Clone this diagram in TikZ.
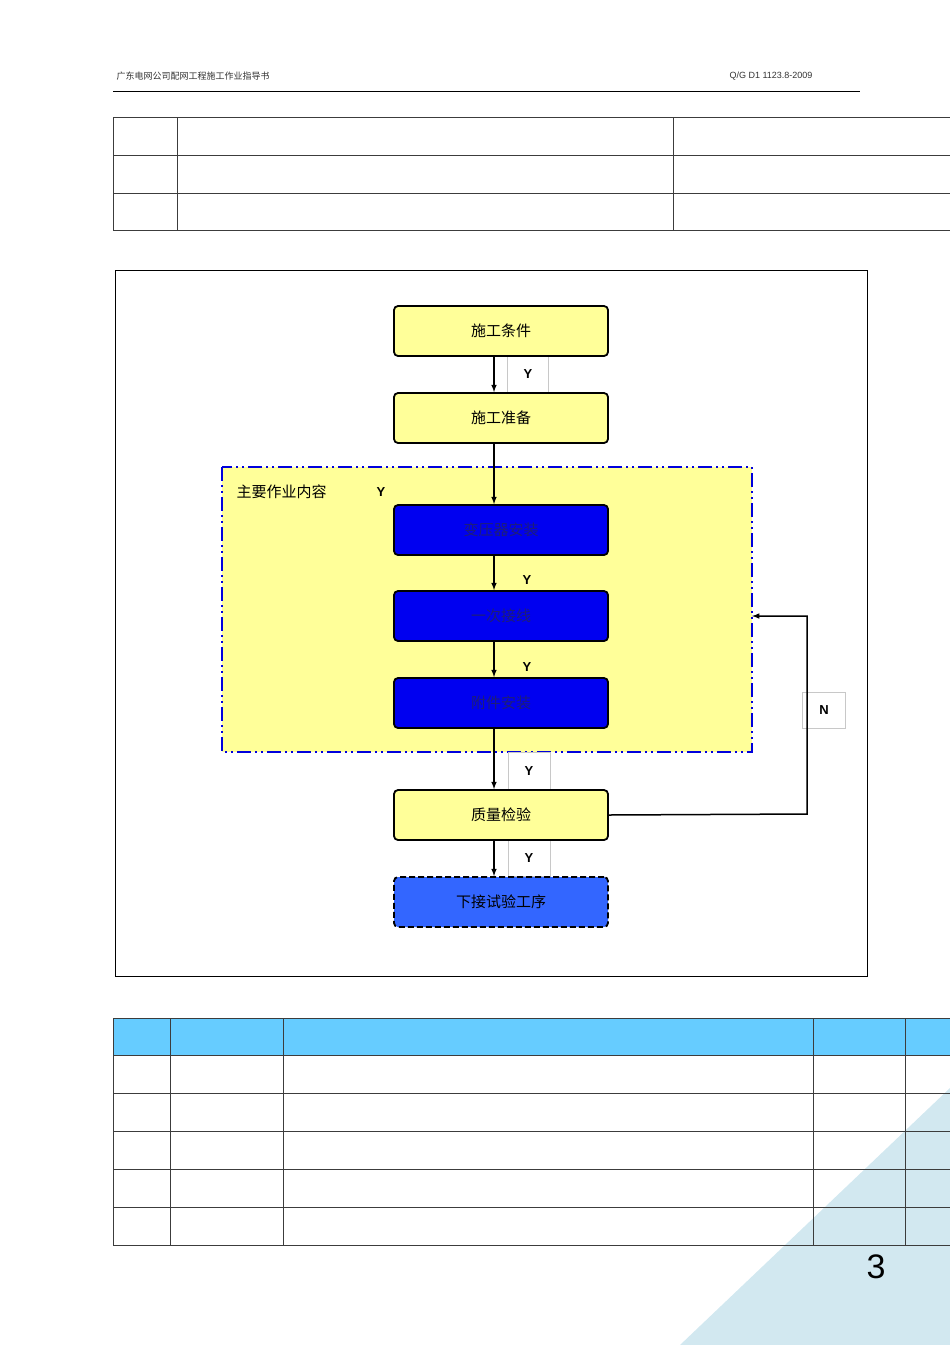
\documentclass[tikz,border=0pt]{standalone}
\usepackage{fontspec}
\setmainfont{Liberation Sans}
\newfontfamily\cjk{Noto Sans CJK SC}
\definecolor{tri}{RGB}{210,232,240}
\definecolor{ylw}{RGB}{255,255,153}
\definecolor{blu}{RGB}{0,0,240}
\definecolor{blutxt}{RGB}{30,30,120}
\definecolor{regb}{RGB}{0,0,220}
\definecolor{lgray}{RGB}{200,200,200}
\definecolor{dgray}{RGB}{60,60,60}
\definecolor{htxt}{RGB}{50,50,50}
\definecolor{lastb}{RGB}{51,102,255}
\definecolor{hdr}{RGB}{102,204,255}
\begin{document}
\begin{tikzpicture}[x=1pt,y=-1pt,
  box/.style={draw=black,line width=1.8pt,rounded corners=4pt,minimum width=214pt,minimum height=50pt,inner sep=0pt,font=\cjk\fontsize{15}{15}\selectfont},
  ybox/.style={box,fill=ylw},
  bbox/.style={box,fill=blu,text=blutxt},
  arr/.style={-latex,line width=1.5pt},
  lab/.style={draw=lgray,line width=0.5pt,inner sep=0pt,font=\bfseries\fontsize{13}{13}\selectfont},
  grid/.style={line width=0.6pt,draw=dgray}]
\useasboundingbox (0,0) rectangle (950,1345);
\fill[tri] (680,1345) -- (950,1088) -- (950,1345) -- cycle;
% header
\node[anchor=west,font=\cjk\fontsize{9}{9}\selectfont,text=htxt] (h1) at (113,76) {广东电网公司配网工程施工作业指导书};
\node[anchor=east,font=\fontsize{9}{9}\selectfont,text=htxt] (h2) at (816,76) {Q/G D1 1123.8-2009};
\draw[line width=0.8pt] (113,91) -- (860,91);
% top table
\draw[grid] (950,117) -- (113,117) -- (113,230) -- (950,230);
\draw[grid] (113,155) -- (950,155) (113,193) -- (950,193) (177,117) -- (177,230) (673,117) -- (673,230);
% frame
\draw[line width=0.6pt] (115,270) rectangle (867,976);
% region
\draw[fill=ylw,draw=regb,line width=2pt,dash pattern=on 14pt off 4pt on 2pt off 4pt on 2pt off 4pt] (222,467) rectangle (752,752);
\node[anchor=west,font=\cjk\fontsize{15}{15}\selectfont] (reg) at (233,492) {主要作业内容};
\node[font=\bfseries\fontsize{13}{13}\selectfont] (regy) at (381,492) {Y};
% labels (gray boxes)
\node[lab,minimum width=41pt,minimum height=36pt] (y1) at (528,374) {\raisebox{-8pt}{Y}};
\node[lab,minimum width=42pt,minimum height=38pt] (y4) at (529,771) {\raisebox{-8pt}{Y}};
\node[lab,minimum width=42pt,minimum height=37pt] (y5) at (529,858) {\raisebox{-8pt}{Y}};
\node[lab,minimum width=43pt,minimum height=36pt,fill=white] (n) at (824,710) {\raisebox{-6pt}{N}};
\node[font=\bfseries\fontsize{13}{13}\selectfont] (y2) at (527,580) {Y};
\node[font=\bfseries\fontsize{13}{13}\selectfont] (y3) at (527,667) {Y};
% boxes
\node[ybox] (a) at (501,331) {施工条件};
\node[ybox] (b) at (501,418) {施工准备};
\node[bbox] (c) at (501,530) {变压器安装};
\node[bbox] (d) at (501,616) {一次接线};
\node[bbox] (e) at (501,703) {附件安装};
\node[ybox] (f) at (501,815) {质量检验};
\node[box,fill=lastb,dash pattern=on 6pt off 3pt] (g) at (501,902) {下接试验工序};
\foreach \s/\t in {a/b,b/c,c/d,d/e,e/f,f/g}
  \draw[arr] ([xshift=-7pt]\s.south) -- ([xshift=-7pt]\t.north);
\coordinate (k1) at (807,814);
\coordinate (k2) at (807,616);
\coordinate (k3) at (752,616);
\draw[arr] (f.east) -- (k1) -- (k2) -- (k3);
% bottom table
\fill[hdr] (113,1018) rectangle (950,1055);
\draw[grid] (950,1018) -- (113,1018) -- (113,1245) -- (950,1245);
\foreach \yy in {1055,1093,1131,1169,1207} \draw[grid] (113,\yy) -- (950,\yy);
\foreach \xx in {170,283,813,905} \draw[grid] (\xx,1018) -- (\xx,1245);
\node[font=\fontsize{34}{34}\selectfont] (pg) at (876,1267) {3};
\end{tikzpicture}
\end{document}
